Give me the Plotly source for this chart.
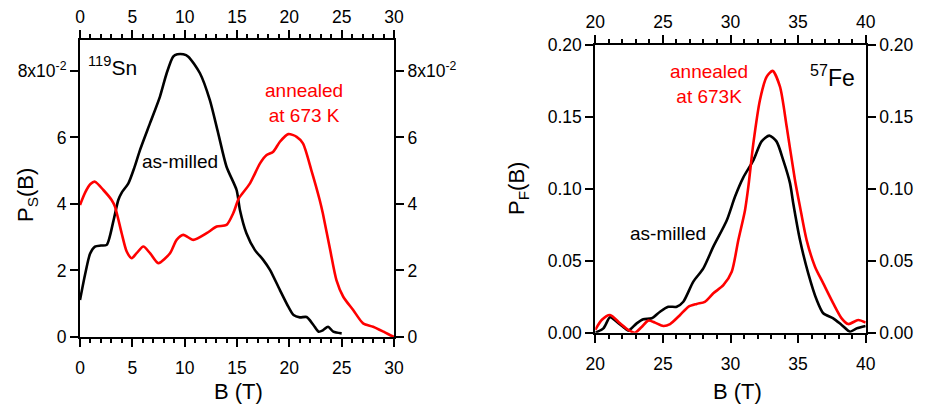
import plotly.graph_objects as go

# ---- Left panel (119Sn), values in units of 1e-2 ----
sn_milled_B = [0, 0.5, 0.96, 1.43, 2.0, 2.55, 3.2, 3.66, 4.0, 4.62, 5.2, 5.73, 6.69, 7.64, 8.28, 8.9, 9.3, 9.87,
               10.35, 11.46, 12.4, 13.2, 14.0, 14.96, 15.28, 15.9, 16.7, 17.5, 18.15, 19.1, 19.9, 20.4, 21.0,
               21.65, 22.3, 22.8, 23.2, 23.7, 24.2, 25.0]
sn_milled_P = [1.11, 1.9, 2.5, 2.72, 2.75, 2.77, 3.5, 4.12, 4.35, 4.62, 5.1, 5.62, 6.43, 7.23, 7.93, 8.43, 8.5, 8.5,
               8.43, 7.93, 7.13, 6.13, 5.12, 4.42, 3.82, 3.12, 2.62, 2.32, 2.02, 1.41, 0.91, 0.66, 0.59,
               0.6, 0.36, 0.16, 0.2, 0.31, 0.16, 0.11]
sn_annealed_B = [0, 0.5, 1.0, 1.43, 2.23, 3.02, 3.34, 3.98, 4.46, 4.94, 5.41, 6.05, 6.69, 7.48, 8.6, 9.23, 9.87,
                 10.83, 12.1, 13.06, 14.0, 14.64, 15.1, 15.28, 16.24, 17.2, 17.83, 18.46, 19.1, 19.9, 20.7, 21.3,
                 22.1, 22.9, 23.2, 23.9, 24.5, 25.15, 26.1, 27.05, 28.0, 29.0, 29.8, 30.0]
sn_annealed_P = [3.97, 4.35, 4.6, 4.67, 4.42, 4.12, 3.92, 3.12, 2.57, 2.37, 2.52, 2.72, 2.52, 2.22, 2.52, 2.92, 3.07,
                 2.92, 3.12, 3.32, 3.37, 3.72, 4.12, 4.22, 4.62, 5.22, 5.47, 5.57, 5.87, 6.1, 6.02, 5.82,
                 5.02, 4.12, 3.72, 2.62, 1.71, 1.21, 0.81, 0.41, 0.31, 0.16, 0.03, 0.0]
sn_ytickvals = [0, 2, 4, 6, 8]
sn_yticktext = ["0", "2", "4", "6", "8x10<sup>-2</sup>"]

# ---- Right panel (57Fe) ----
fe_milled_B = [20, 20.6, 21.09, 21.58, 22.07, 22.44, 23.06, 23.55, 24.17, 24.79, 25.4, 26.02, 26.51, 27.25, 27.99,
               28.73, 29.72, 30.33, 30.95, 31.7, 32.3, 32.87, 33.4, 33.9, 34.4, 34.64, 35.14, 35.75, 36.38, 36.86,
               37.6, 38.22, 38.84, 39.33, 40]
fe_milled_P = [0, 0.003, 0.0107, 0.0077, 0.004, 0.0014, 0.0065, 0.0093, 0.01, 0.0146, 0.018, 0.018, 0.0215, 0.0355,
               0.0447, 0.0598, 0.078, 0.0945, 0.108, 0.12, 0.133, 0.137, 0.133, 0.12, 0.104, 0.09, 0.0644, 0.0413,
               0.0227, 0.0135, 0.01, 0.0054, 0.0007, 0.003, 0.0047]
fe_annealed_B = [20, 20.47, 21.09, 21.83, 22.44, 22.94, 23.43, 23.92, 24.42, 25.03, 25.53, 26.27, 26.88, 27.5, 28.1,
                 28.73, 29.47, 30.09, 30.58, 31.07, 31.32, 31.69, 32.18, 32.68, 33.12, 33.66, 34.16, 34.77, 35.14,
                 35.63, 36.25, 36.86, 37.6, 38.22, 38.71, 39.45, 40]
fe_annealed_P = [0.002, 0.0088, 0.0123, 0.0065, 0.0019, 0, 0.004, 0.0084, 0.007, 0.0047, 0.006, 0.0123, 0.018, 0.02,
                 0.0215, 0.0274, 0.033, 0.0424, 0.0644, 0.085, 0.1015, 0.1316, 0.1618, 0.178, 0.182, 0.171, 0.143,
                 0.106, 0.0876, 0.0644, 0.0459, 0.0343, 0.0204, 0.01, 0.006, 0.0088, 0.007]
fe_ytickvals = [0, 0.05, 0.10, 0.15, 0.20]
fe_yticktext = ["0.00", "0.05", "0.10", "0.15", "0.20"]

RED = "#ff0000"
FONT = "Liberation Sans, Arial, sans-serif"
W, H = 933, 406

fig = go.Figure()
lw = 2.6


def curve(xs, ys, color, xa, ya):
    fig.add_trace(go.Scatter(x=xs, y=ys, mode="lines", xaxis=xa, yaxis=ya, hoverinfo="skip",
                             line=dict(color=color, width=lw, shape="spline", smoothing=0.7)))


def ghost(xs, ys, xa, ya):
    # invisible trace so that the mirrored (top / right) labelled axes get drawn
    fig.add_trace(go.Scatter(x=xs, y=ys, mode="lines", xaxis=xa, yaxis=ya, hoverinfo="skip",
                             opacity=0, line=dict(color="rgba(0,0,0,0)", width=0)))


curve(sn_milled_B, sn_milled_P, "black", "x", "y")
curve(sn_annealed_B, sn_annealed_P, RED, "x", "y")
ghost(sn_milled_B, sn_milled_P, "x2", "y2")
curve(fe_milled_B, fe_milled_P, "black", "x3", "y3")
curve(fe_annealed_B, fe_annealed_P, RED, "x3", "y3")
ghost(fe_milled_B, fe_milled_P, "x4", "y4")

L_dom_x = [80 / W, 394 / W]
L_dom_y = [1 - 337 / H, 1 - 40 / H]
R_dom_x = [595.3 / W, 865.7 / W]
R_dom_y = [1 - 332.7 / H, 1 - 45 / H]

tickfont = dict(family=FONT, size=17.5, color="black")
minor_x = dict(dtick=1, ticks="outside", ticklen=4, tickwidth=1.5, tickcolor="black")


def xax(dom, rng, anchor, side, overlay=None, dtick=5, standoff=0):
    d = dict(domain=dom, range=rng, anchor=anchor, side=side, showgrid=False, zeroline=False,
             showline=True, linecolor="black", linewidth=2, ticks="outside", ticklen=8, tickwidth=2,
             tickcolor="black", dtick=dtick, tick0=0, tickfont=tickfont, minor=minor_x, fixedrange=True,
             automargin=False, ticklabelstandoff=standoff)
    if overlay:
        d["overlaying"] = overlay
    return d


def yax(dom, rng, anchor, side, vals, text, overlay=None):
    d = dict(domain=dom, range=rng, anchor=anchor, side=side, showgrid=False, zeroline=False,
             showline=True, linecolor="black", linewidth=2, ticks="outside", ticklen=8, tickwidth=2,
             tickcolor="black", tickmode="array", tickvals=vals, ticktext=text, tickfont=tickfont,
             fixedrange=True, automargin=False)
    if overlay:
        d["overlaying"] = overlay
    return d


fig.update_layout(
    width=W, height=H, margin=dict(l=0, r=0, t=0, b=0, pad=0, autoexpand=False),
    paper_bgcolor="white", plot_bgcolor="white", showlegend=False,
    font=dict(family=FONT, color="black"),
    xaxis=xax(L_dom_x, [0, 30], "y", "bottom", standoff=6),
    yaxis=yax(L_dom_y, [0, 8.93], "x", "left", sn_ytickvals, sn_yticktext),
    xaxis2=xax(L_dom_x, [0, 30], "y", "top", overlay="x"),
    yaxis2=yax(L_dom_y, [0, 8.93], "x", "right", sn_ytickvals, sn_yticktext, overlay="y"),
    xaxis3=xax(R_dom_x, [20, 40], "y3", "bottom", standoff=6),
    yaxis3=yax(R_dom_y, [0, 0.20], "x3", "left", fe_ytickvals, fe_yticktext),
    xaxis4=xax(R_dom_x, [20, 40], "y3", "top", overlay="x3"),
    yaxis4=yax(R_dom_y, [0, 0.20], "x3", "right", fe_ytickvals, fe_yticktext, overlay="y3"),
)


def px(x, y, text, size=19, color="black", angle=0, xanchor="center", yanchor="middle", align="center"):
    fig.add_annotation(x=x / W, y=1 - y / H, xref="paper", yref="paper", text=text, showarrow=False,
                       font=dict(family=FONT, size=size, color=color), textangle=angle,
                       xanchor=xanchor, yanchor=yanchor, align=align)


# axis titles
px(27, 195, "P<sub>S</sub>(B)", size=22, angle=-90)
px(239, 391, "B (T)", size=22)
px(518, 189, "P<sub>F</sub>(B)", size=22, angle=-90)
px(737, 391, "B (T)", size=22)

# in-plot labels
px(86, 66, "<sup>119</sup>Sn", size=21, xanchor="left")
px(180, 161, "as-milled", size=19)
px(304, 103, "annealed<br>at 673 K", size=19, color=RED)
px(709, 84, "annealed<br>at 673K", size=19, color=RED)
px(857, 76, "<sup>57</sup>Fe", size=23, xanchor="right")
px(668, 234, "as-milled", size=19)

fig.write_html("out.html")
